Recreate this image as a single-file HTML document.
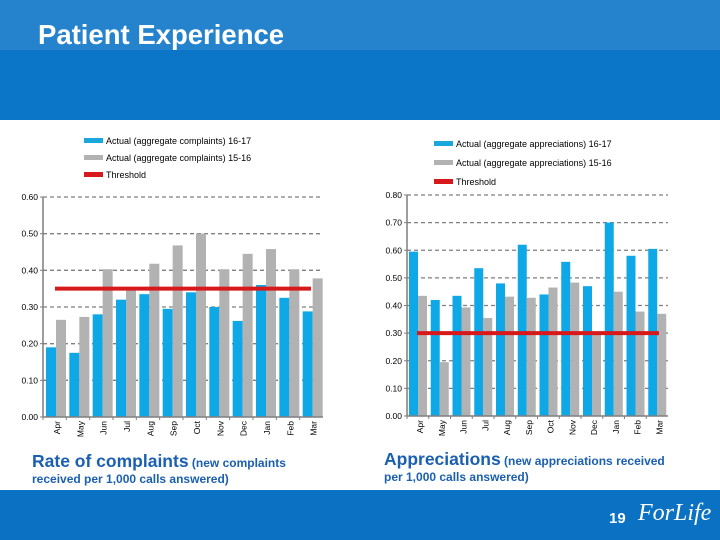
<!DOCTYPE html>
<html><head><meta charset="utf-8">
<style>
body{margin:0;width:720px;height:540px;overflow:hidden;background:#fff;font-family:"Liberation Sans",sans-serif;position:relative}
.hdr1{position:absolute;left:0;top:0;width:720px;height:50px;background:#2483cc}
.hdr2{position:absolute;left:0;top:50px;width:720px;height:70px;background:#0b76c8}
.title{position:absolute;left:38px;top:19px;color:#fff;font-weight:bold;font-size:27.5px}
.foot{position:absolute;left:0;top:490px;width:720px;height:50px;background:#0a71c3}
.cap{position:absolute;color:#1a5fb0;font-weight:bold;font-size:12px;line-height:16px}
.cap b{font-size:17.5px}
</style></head><body>
<div class="hdr1"></div>
<div class="hdr2"></div>
<div class="title">Patient Experience</div>
<div class="cap" style="left:32px;top:453px"><b>Rate of complaints</b> (new complaints<br>received per 1,000 calls answered)</div>
<div class="cap" style="left:384px;top:451px"><b>Appreciations</b> (new appreciations received<br>per 1,000 calls answered)</div>
<div class="foot">
<span style="position:absolute;left:609px;top:20px;color:#fff;font-weight:bold;font-size:15px">19</span>
<span style="position:absolute;left:638px;top:10px;color:#fff;font-style:italic;font-size:24px;font-family:'Liberation Serif',serif">ForLife</span>
</div>
<svg id="c" width="720" height="540" style="position:absolute;left:0;top:0"></svg>
<script>
const months=["Apr","May","Jun","Jul","Aug","Sep","Oct","Nov","Dec","Jan","Feb","Mar"];
const complaints1617=[0.19,0.175,0.28,0.32,0.335,0.295,0.34,0.30,0.262,0.36,0.325,0.288];
const complaints1516=[0.265,0.273,0.403,0.348,0.418,0.468,0.50,0.403,0.445,0.458,0.403,0.378];
const complaintsThreshold=0.35;
const complaintTicks=["0.00","0.10","0.20","0.30","0.40","0.50","0.60"];
const appr1617=[0.595,0.42,0.435,0.535,0.48,0.62,0.44,0.558,0.47,0.70,0.58,0.605];
const appr1516=[0.435,0.195,0.393,0.355,0.432,0.428,0.465,0.483,0.30,0.45,0.378,0.37];
const apprThreshold=0.30;
const apprTicks=["0.00","0.10","0.20","0.30","0.40","0.50","0.60","0.70","0.80"];
const NS="http://www.w3.org/2000/svg";
const svg=document.getElementById('c');
function mk(t,a,p){const e=document.createElementNS(NS,t);for(const k in a)e.setAttribute(k,a[k]);(p||svg).appendChild(e);return e;}
function chart(o){
  const g=mk('g',{});
  
  
  const max=parseFloat(o.ticks[o.ticks.length-1]);
  const y=v=>o.y0-(v/max)*(o.y0-o.yt);
  const gw=(o.x1-o.x0)/o.cats.length;
  const x=i=>o.x0+i*gw;
  o.ticks.forEach(t=>{const v=parseFloat(t);const yy=y(v);
    if(v>0){const l=mk('line',{x1:o.x0,x2:o.x1,y1:yy,y2:yy,stroke:'#7f7f7f','stroke-width':1.3,'stroke-dasharray':'4,3'},g);
      }
    const tx=mk('text',{x:o.x0-5,y:yy+3,'text-anchor':'end','font-size':8.5,fill:'#000'},g);tx.textContent=t;
    
    mk('line',{x1:o.x0-3,x2:o.x0,y1:yy,y2:yy,stroke:'#7f7f7f'},g);
  });
  o.cats.forEach((c,i)=>{
    const b1=mk('rect',{x:x(i)+o.off,y:y(o.a[i]),width:o.bw,height:o.y0-y(o.a[i]),fill:'#0ea8e6'},g);
    
    const b2=mk('rect',{x:x(i)+o.off+o.bw,y:y(o.b[i]),width:o.bw,height:o.y0-y(o.b[i]),fill:'#b2b2b2'},g);
    
    const cx=x(i)+gw/2+3, ty=o.y0+4;
    const t=mk('text',{x:cx,y:ty,'text-anchor':'end','font-size':8.5,transform:`rotate(-90 ${cx} ${ty})`,'dominant-baseline':'middle'},g);
    t.textContent=c;
    mk('line',{x1:x(i),x2:x(i),y1:o.y0,y2:o.y0+3,stroke:'#7f7f7f'},g);
  });
  mk('line',{x1:o.x0,x2:o.x0,y1:o.yt,y2:o.y0,stroke:'#7f7f7f','stroke-width':1.5},g);
  mk('line',{x1:o.x0,x2:o.x1,y1:o.y0,y2:o.y0,stroke:'#7f7f7f','stroke-width':1.5},g);
  const th=mk('line',{x1:o.tx0,x2:o.tx1,y1:y(o.th),y2:y(o.th),stroke:'#d7191c','stroke-width':4},g);
  
  o.legend.forEach((L,i)=>{
    mk('rect',{x:o.lx,y:o.ly+i*o.ld-3,width:o.lsw,height:5,fill:L[1]},g);
    const t=mk('text',{x:o.lx+o.lsw+3,y:o.ly+i*o.ld+3,'font-size':9},g);t.textContent=L[0];
    
  });
}
chart({name:'complaints-chart',cats:months,a:complaints1617,b:complaints1516,th:complaintsThreshold,ticks:complaintTicks,
  x0:43,x1:323,y0:417,yt:197,off:3,bw:10,tx0:55,tx1:311,lx:84,ly:141,ld:17,lsw:19,
  legend:[["Actual (aggregate complaints) 16-17","#1aa7dd"],["Actual (aggregate complaints) 15-16","#b2b2b2"],["Threshold","#d7191c"]]});
chart({name:'appreciations-chart',cats:months,a:appr1617,b:appr1516,th:apprThreshold,ticks:apprTicks,
  x0:407,x1:668,y0:416,yt:195,off:2,bw:9,tx0:417,tx1:659,lx:434,ly:144,ld:19,lsw:19,
  legend:[["Actual (aggregate appreciations) 16-17","#1aa7dd"],["Actual (aggregate appreciations) 15-16","#b2b2b2"],["Threshold","#d7191c"]]});
</script>
</body></html>
